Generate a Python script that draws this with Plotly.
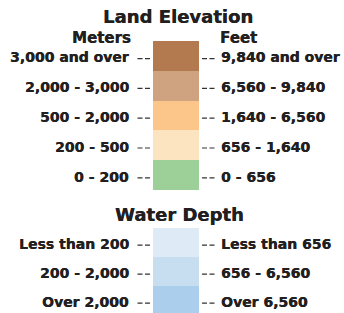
import plotly.graph_objects as go

# ---------------- data ----------------
land_title = "Land Elevation"
water_title = "Water Depth"
unit_left = "Meters"
unit_right = "Feet"

land_meters = ["3,000 and over", "2,000 - 3,000", "500 - 2,000", "200 - 500", "0 - 200"]
land_feet = ["9,840 and over", "6,560 - 9,840", "1,640 - 6,560", "656 - 1,640", "0 - 656"]
land_colors = ["#b27a4e", "#d0a380", "#fcc589", "#fde4c0", "#9dd099"]

water_meters = ["Less than 200", "200 - 2,000", "Over 2,000"]
water_feet = ["Less than 656", "656 - 6,560", "Over 6,560"]
water_colors = ["#deebf7", "#c6def0", "#abceec"]

# ---------------- layout constants ----------------
W, H = 344, 313
COL_X, COL_W = 176, 46
LAND_TOP, LAND_ROW = 41, 29.8
WATER_TOP, WATER_ROW = 228, 29.0
LEFT_TXT_X, RIGHT_TXT_X = 131, 219
TXT = "#231f20"
FONT = "DejaVu Sans"
SHADOW = "0.35px 0px 0px #231f20"

fig = go.Figure()

def add_block(colors, top, row):
    n = len(colors)
    fig.add_trace(go.Bar(
        x=[COL_X] * n, y=[row] * n,
        base=[top + i * row for i in range(n)],
        width=COL_W, marker=dict(color=colors, line=dict(width=0)),
        orientation="v", hoverinfo="skip", showlegend=False))

add_block(land_colors, LAND_TOP, LAND_ROW)
add_block(water_colors, WATER_TOP, WATER_ROW)

ann = []
shapes = []

def fnt(size):
    return dict(family=FONT, size=size, color=TXT, weight="bold", shadow=SHADOW)

def label_rows(left, right, top, row):
    for i, (l, r) in enumerate(zip(left, right)):
        yc = top + (i + 0.5) * row + 1.5
        ann.append(dict(x=LEFT_TXT_X, y=yc, text=l, xanchor="right", yanchor="middle",
                        showarrow=False, font=fnt(14)))
        ann.append(dict(x=RIGHT_TXT_X, y=yc, text=r, xanchor="left", yanchor="middle",
                        showarrow=False, font=fnt(14)))
        for x0, x1 in [(137.5, 150), (202, 214.5)]:
            shapes.append(dict(type="line", x0=x0, x1=x1, y0=yc + 1.2, y1=yc + 1.2,
                               line=dict(color="#333", width=1.2, dash="5px,2.5px")))

label_rows(land_meters, land_feet, LAND_TOP, LAND_ROW)
label_rows(water_meters, water_feet, WATER_TOP, WATER_ROW)

ann.append(dict(x=178, y=16, text=land_title, xanchor="center", yanchor="middle", showarrow=False,
                font=fnt(18)))
ann.append(dict(x=179, y=214, text=water_title, xanchor="center", yanchor="middle", showarrow=False,
                font=fnt(18)))
ann.append(dict(x=101, y=38, text=unit_left, xanchor="center", yanchor="middle", showarrow=False,
                font=fnt(15)))
ann.append(dict(x=238, y=38, text=unit_right, xanchor="center", yanchor="middle", showarrow=False,
                font=fnt(15)))

fig.update_layout(
    width=W, height=H, margin=dict(l=0, r=0, t=0, b=0),
    paper_bgcolor="white", plot_bgcolor="white",
    barmode="overlay", bargap=0,
    xaxis=dict(range=[0, W], visible=False, fixedrange=True),
    yaxis=dict(range=[H, 0], visible=False, fixedrange=True),
    annotations=ann, shapes=shapes,
)

fig.write_html("out.html", config={"displayModeBar": False},
               post_script="document.body.style.margin='0';document.body.style.overflow='hidden';")
